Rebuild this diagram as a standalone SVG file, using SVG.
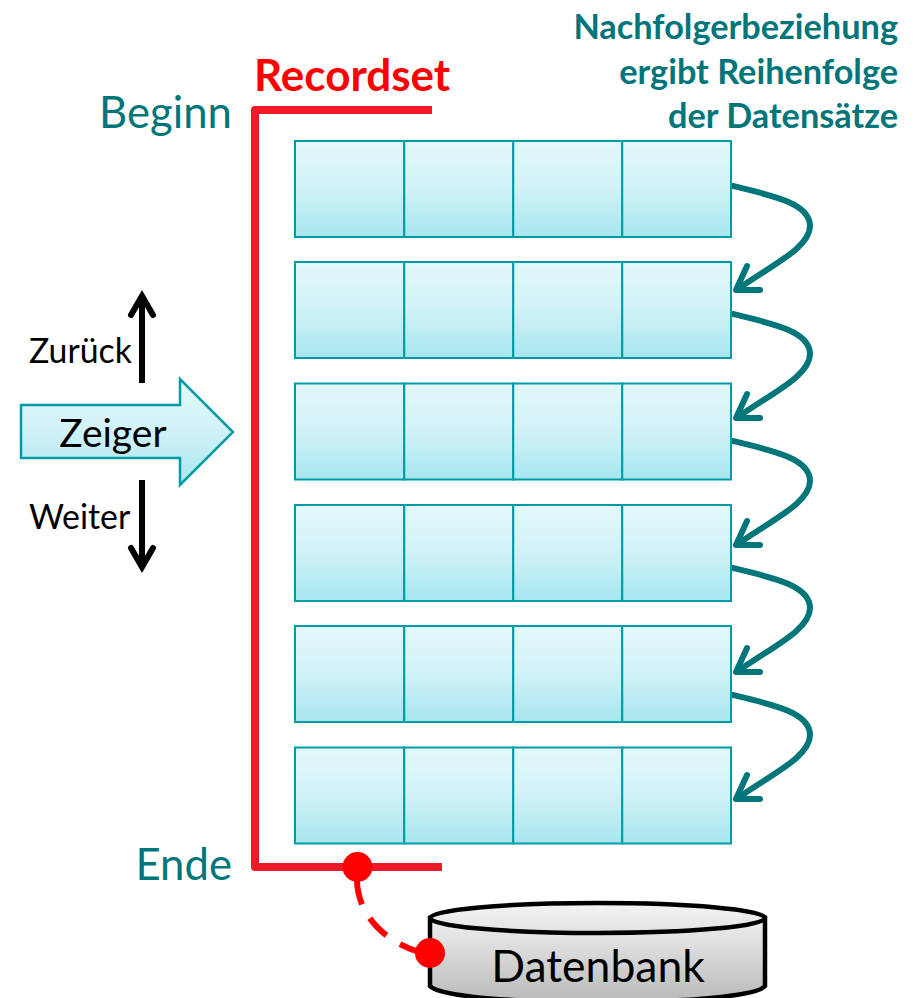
<svg xmlns="http://www.w3.org/2000/svg" width="917" height="998" viewBox="0 0 917 998">
<style>
text{font-family:"Lato","Carlito","Liberation Sans",sans-serif}
.cell{fill:url(#cy);stroke:#009ba5;stroke-width:2}
.ptr{fill:none;stroke:#00757a;stroke-width:6;stroke-linecap:round;stroke-linejoin:round}
.tl{fill:#00757a}
.blk{fill:none;stroke:#000;stroke-width:6;stroke-linecap:butt}
.hd{fill:none;stroke:#000;stroke-width:6;stroke-linecap:round;stroke-linejoin:miter}
.rs{fill:none;stroke:#f0192a;stroke-width:8;stroke-linejoin:round}
</style>
<defs>
<linearGradient id="cy" x1="0" y1="0" x2="0" y2="1"><stop offset="0" stop-color="#e3f8fb"/><stop offset="0.45" stop-color="#d3f3f7"/><stop offset="1" stop-color="#a7e6ef"/></linearGradient>
<linearGradient id="gr" x1="0" y1="0" x2="0" y2="1"><stop offset="0" stop-color="#efefef"/><stop offset="1" stop-color="#b9b9b9"/></linearGradient>
<linearGradient id="gt" x1="0" y1="0" x2="0" y2="1"><stop offset="0" stop-color="#f4f4f4"/><stop offset="1" stop-color="#e2e2e2"/></linearGradient>
<g id="row">
<rect class="cell" x="295" y="0" width="109.250" height="96"/>
<rect class="cell" x="404.250" y="0" width="109" height="96"/>
<rect class="cell" x="513.250" y="0" width="109" height="96"/>
<rect class="cell" x="622.250" y="0" width="108.750" height="96"/>
</g>
<g id="link">
<path class="ptr" d="M733 0C775 10 810 18 810 40C810 62 770 80 738 103"/>
<path class="ptr" d="M747 80L736 104L760 104"/>
</g>
</defs>

<g id="connectors">
<path class="rs" d="M432 110H255V867H442"/>
<path d="M357 881C358 915 385 945 430 955" fill="none" stroke="#ff0000" stroke-width="6" stroke-dasharray="24 16"/>
<use href="#link" y="186"/>
<use href="#link" y="314"/>
<use href="#link" y="441"/>
<use href="#link" y="568"/>
<use href="#link" y="695"/>
</g>

<g id="title"><text x="254" y="91" font-size="44" font-weight="700" fill="#ff0000">Recordset</text></g>
<g id="note" class="tl" font-weight="700" font-size="34.300" text-anchor="end">
<text x="898" y="39">Nachfolgerbeziehung</text>
<text x="898" y="83.500">ergibt Reihenfolge</text>
<text x="898" y="127.500">der Datensätze</text>
</g>
<g id="beginn"><text x="232" y="128" font-size="43.700" class="tl" text-anchor="end">Beginn</text></g>
<g id="ende"><text x="232" y="880" font-size="43.700" class="tl" text-anchor="end">Ende</text></g>

<g id="record1"><use href="#row" y="141"/></g>
<g id="record2"><use href="#row" y="262"/></g>
<g id="record3"><use href="#row" y="383.500"/></g>
<g id="record4"><use href="#row" y="505"/></g>
<g id="record5"><use href="#row" y="626"/></g>
<g id="record6"><use href="#row" y="747.500"/></g>

<g id="zeiger">
<path d="M21 405H180V379L233 432L180 485V458H21Z" fill="url(#cy)" stroke="#009ba5" stroke-width="2.500"/>
<text x="113" y="447" font-size="39" text-anchor="middle" fill="#000">Zeiger</text>
</g>
<g id="zurueck">
<path class="blk" d="M142 383V298"/>
<path class="hd" d="M131 315L142 296L153 315"/>
<text x="29" y="363" font-size="33.800" fill="#000">Zurück</text>
</g>
<g id="weiter">
<path class="blk" d="M142 480V565"/>
<path class="hd" d="M131 548L142 567L153 548"/>
<text x="29" y="529" font-size="33.800" fill="#000">Weiter</text>
</g>

<g id="datenbank">
<path d="M430 918V986C436 993 480 1002 597 1002C715 1002 760 993 765 986V918Z" fill="url(#gr)" stroke="#000" stroke-width="4.500"/>
<ellipse cx="597.500" cy="918" rx="167.500" ry="15" fill="url(#gt)" stroke="#000" stroke-width="4.500"/>
<text x="598" y="982" font-size="44.500" text-anchor="middle" fill="#000">Datenbank</text>
</g>
<g id="dot-top"><circle cx="357.500" cy="867" r="15" fill="#ff0000"/></g>
<g id="dot-db"><circle cx="430" cy="953" r="15" fill="#ff0000"/></g>
</svg>
